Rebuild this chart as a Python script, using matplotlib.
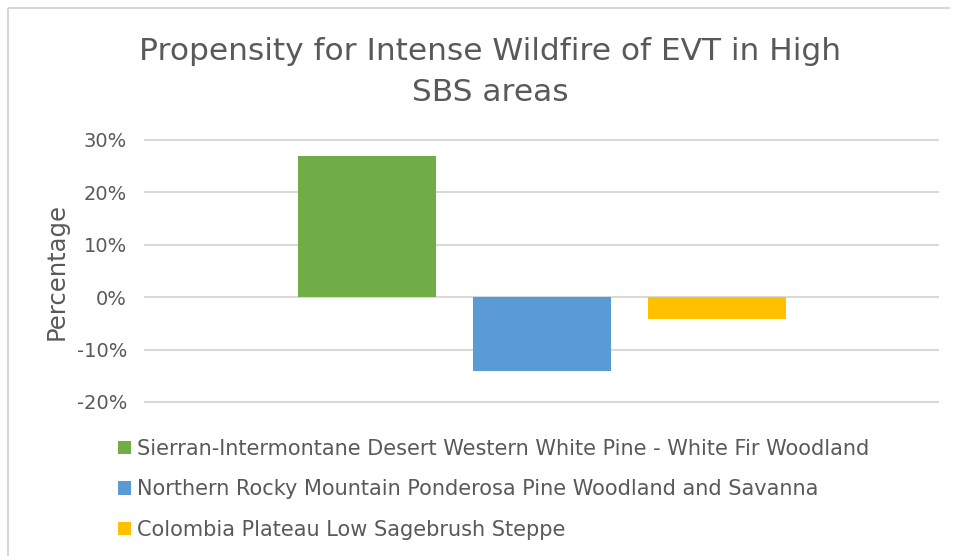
import matplotlib.pyplot as plt
from matplotlib.lines import Line2D
from matplotlib.ticker import FuncFormatter

# -----------------------------
# DATA
# -----------------------------
TITLE = "Propensity for Intense Wildfire of EVT in High\nSBS areas"
Y_LABEL = "Percentage"
SERIES = [
    "Sierran-Intermontane Desert Western White Pine - White Fir Woodland",
    "Northern Rocky Mountain Ponderosa Pine Woodland and Savanna",
    "Colombia Plateau Low Sagebrush Steppe",
]
VALUES = [0.27, -0.141, -0.041]
COLORS = ["#70AD47", "#5B9BD5", "#FFC000"]
Y_TICKS = [-0.2, -0.1, 0.0, 0.1, 0.2, 0.3]

TEXT_COLOR = "#595959"
GRID_COLOR = "#D9D9D9"

plt.rcParams["font.family"] = ["DejaVu Sans"]

W, H = 954, 556
fig = plt.figure(figsize=(W / 100, H / 100), dpi=100)

# chart frame: only top and left edges fall inside the image
frame_x, frame_y = 8 / W, 1 - 8 / H
fig.add_artist(Line2D([frame_x, 950 / W], [frame_y, frame_y], transform=fig.transFigure,
                      color="#D0D0D0", lw=1.2, solid_capstyle="butt"))
fig.add_artist(Line2D([frame_x, frame_x], [0, frame_y], transform=fig.transFigure,
                      color="#D0D0D0", lw=1.2, solid_capstyle="butt"))

ax = fig.add_axes([145 / W, 1 - 402 / H, (938 - 145) / W, (402 - 140) / H])

bar_w = 138 / 793
offset = 175 / 793
for i, (name, val, col) in enumerate(zip(SERIES, VALUES, COLORS)):
    ax.bar((i - 1) * offset, val, width=bar_w, color=col, label=name, zorder=3)

ax.set_xlim(-0.5, 0.5)
ax.set_ylim(-0.2, 0.3)
ax.set_yticks(Y_TICKS)
ax.yaxis.set_major_formatter(FuncFormatter(lambda v, _: f"{v * 100:.0f}%"))
ax.set_xticks([])
ax.tick_params(axis="y", length=0, pad=13, labelsize=14, labelcolor=TEXT_COLOR)
ax.grid(True, axis="y", color=GRID_COLOR, lw=1.5, zorder=0)
for gl in ax.get_ygridlines():
    gl.set_clip_on(False)
for s in ax.spines.values():
    s.set_visible(False)

fig.text(57 / W, 1 - 271 / H, Y_LABEL, rotation=90, ha="center", va="center",
         fontsize=17.5, color=TEXT_COLOR)
fig.text(490 / W, 1 - 72 / H, TITLE, ha="center", va="center", fontsize=22.5,
         color=TEXT_COLOR, linespacing=1.55)

handles, labels = ax.get_legend_handles_labels()
fig.legend(handles, labels, loc="upper left", bbox_to_anchor=(118 / W, 1 - 439 / H),
           frameon=False, fontsize=15, labelcolor=TEXT_COLOR,
           handlelength=0.6, handleheight=0.6, handletextpad=0.3,
           labelspacing=0.98, borderpad=0, borderaxespad=0)

fig.savefig("out.png", dpi=100, facecolor="white")
